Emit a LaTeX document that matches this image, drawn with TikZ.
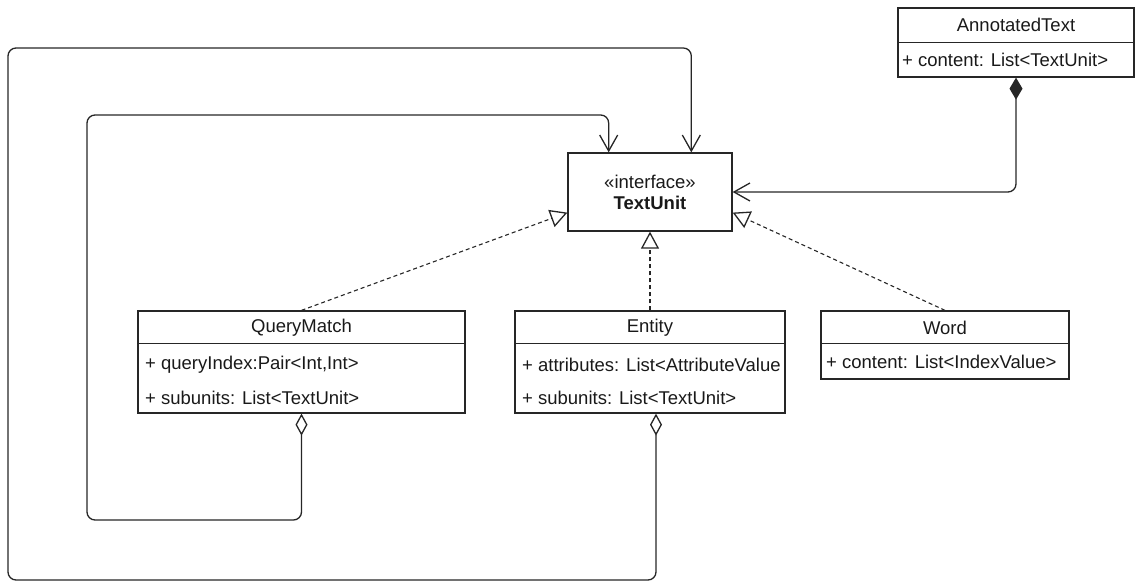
\documentclass[tikz,border=0pt]{standalone}
\usepackage{fontspec}
\setmainfont{Liberation Sans}
\usetikzlibrary{arrows.meta,calc}

\begin{document}
\begin{tikzpicture}[x=1pt,y=-1pt,
  every node/.style={font=\fontsize{18.5}{21}\selectfont, text=black!90},
  box/.style={draw=black!85, line width=1.3pt, rectangle, inner sep=0pt},
  title/.style={inner sep=0pt, anchor=center},
  attr/.style={inner sep=0pt, anchor=west},
  link/.style={draw=black!85, line width=1.3pt, rounded corners=8pt},
  aggr/.style={link,
    {Diamond[open,length=22pt,width=12pt,fill=white]}-{Straight Barb[length=16pt,width=18pt,line width=1.3pt]}},
  comp/.style={link,
    {Diamond[length=22pt,width=13pt]}-{Straight Barb[length=16pt,width=18pt,line width=1.3pt]}},
  real/.style={draw=black!85, line width=1.1pt, dash pattern=on 4pt off 3pt,
    -{Triangle[open,length=17pt,width=18pt,fill=white,line width=1.3pt]}},
]
\useasboundingbox (0,0) rectangle (1136,585);

% interface
\node[box, minimum width=164pt, minimum height=78pt, align=center] (TU) at (650,192)
  {«interface»\\\textbf{TextUnit}};

% AnnotatedText
\node[box, minimum width=236pt, minimum height=69pt] (AT) at (1016,42.5) {};
\draw[black!85, line width=1.3pt] ([yshift=-35pt]AT.north west) -- ([yshift=-35pt]AT.north east);
\node[title] (ATt) at (1016,25) {AnnotatedText};
\node[attr] (ATa) at (902,60) {+ content: List<TextUnit>};

% QueryMatch
\node[box, minimum width=327pt, minimum height=102pt] (QM) at (301.5,362) {};
\draw[black!85, line width=1.3pt] ([yshift=-33pt]QM.north west) -- ([yshift=-33pt]QM.north east);
\node[title] (QMt) at (301.5,327.5) {QueryMatch};
\node[attr] (QMa) at (145,365) {+ queryIndex:Pair<Int,Int>};
\node[attr] (QMb) at (145,398) {+ subunits: List<TextUnit>};

% Entity
\node[box, minimum width=270pt, minimum height=102pt] (EN) at (650,362) {};
\draw[black!85, line width=1.3pt] ([yshift=-33pt]EN.north west) -- ([yshift=-33pt]EN.north east);
\node[title] (ENt) at (650,327.5) {Entity};
\node[attr] (ENa) at (522,365) {+ attributes: List<AttributeValue};
\node[attr] (ENb) at (522,398) {+ subunits: List<TextUnit>};

% Word
\node[box, minimum width=248pt, minimum height=68pt] (WD) at (945,345) {};
\draw[black!85, line width=1.3pt] ([yshift=-33pt]WD.north west) -- ([yshift=-33pt]WD.north east);
\node[title] (WDt) at (945,327.5) {Word};
\node[attr] (WDa) at (826,362) {+ content: List<IndexValue>};

% attachment points on TextUnit
\coordinate (tuA) at ($(TU.north west)!0.25!(TU.north east)$);
\coordinate (tuB) at ($(TU.north west)!0.75!(TU.north east)$);
\coordinate (tuL) at ($(TU.north west)!0.76!(TU.south west)$);
\coordinate (tuR) at ($(TU.north east)!0.76!(TU.south east)$);
\coordinate (enD) at ([xshift=6pt]EN.south);

% realizations
\draw[real] (QM.north) -- (tuL);
\draw[real] (EN.north) -- (EN.north |- TU.south);
\draw[real] (WD.north) -- (tuR);

% aggregations
\draw[aggr] (QM.south) -- (QM.south |- 0,520) -- (87,520) -- (87,115) -- (tuA |- 0,115) -- (tuA);
\draw[aggr] (enD) -- (enD |- 0,580) -- (8,580) -- (8,48) -- (tuB |- 0,48) -- (tuB);

% composition
\draw[comp] (AT.south) |- (TU.east);
\end{tikzpicture}
\end{document}
